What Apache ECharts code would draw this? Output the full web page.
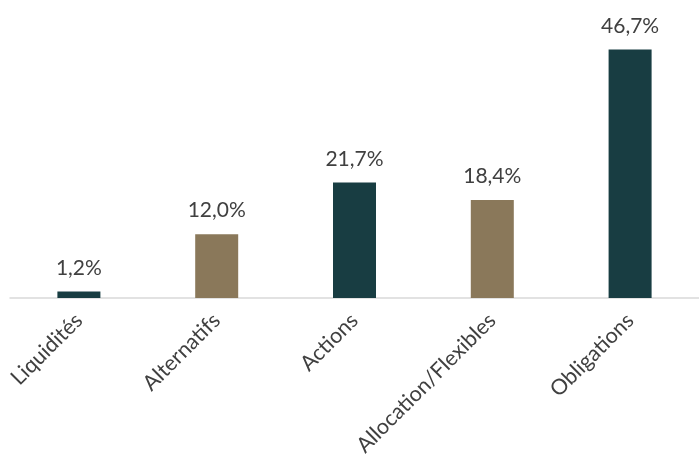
<!DOCTYPE html>
<html>
<head>
<meta charset="utf-8">
<script src="https://cdn.jsdelivr.net/npm/echarts@6/dist/echarts.min.js"></script>
<style>
    html, body { margin: 0; padding: 0; background: #fff; }
    #chart { width: 699px; height: 468px; }
</style>
</head>
<body>
<div id="chart"></div>
<script>
    var categories = ['Liquidités', 'Alternatifs', 'Actions', 'Allocation/Flexibles', 'Obligations'];
    var values = [1.2, 12.0, 21.7, 18.4, 46.7];
    var barColors = ['#183D42', '#8A785A', '#183D42', '#8A785A', '#183D42'];

    var myChart = echarts.init(document.getElementById('chart'));
    var option = {
        animation: false,
        grid: {
            left: 10,
            right: -3,
            top: 32,
            bottom: 170
        },
        xAxis: {
            type: 'category',
            data: categories,
            axisLine: {lineStyle: {color: '#D9D9D9', width: 1.5}},
            axisTick: {show: false},
            axisLabel: {
                rotate: 45,
                margin: 19,
                interval: 0,
                color: '#404040',
                fontFamily: 'Lato',
                fontSize: 21.5
            }
        },
        yAxis: {
            type: 'value',
            min: 0,
            max: 50,
            show: false
        },
        series: [{
            type: 'bar',
            barWidth: 43,
            data: values.map(function (v, i) {
                return {value: v, itemStyle: {color: barColors[i]}};
            }),
            label: {
                show: true,
                position: 'top',
                distance: 13,
                color: '#404040',
                fontFamily: 'Lato',
                fontSize: 21,
                formatter: function (p) {
                    return p.value.toFixed(1).replace('.', ',') + '%';
                }
            }
        }]
    };
    myChart.setOption(option);
</script>
</body>
</html>
